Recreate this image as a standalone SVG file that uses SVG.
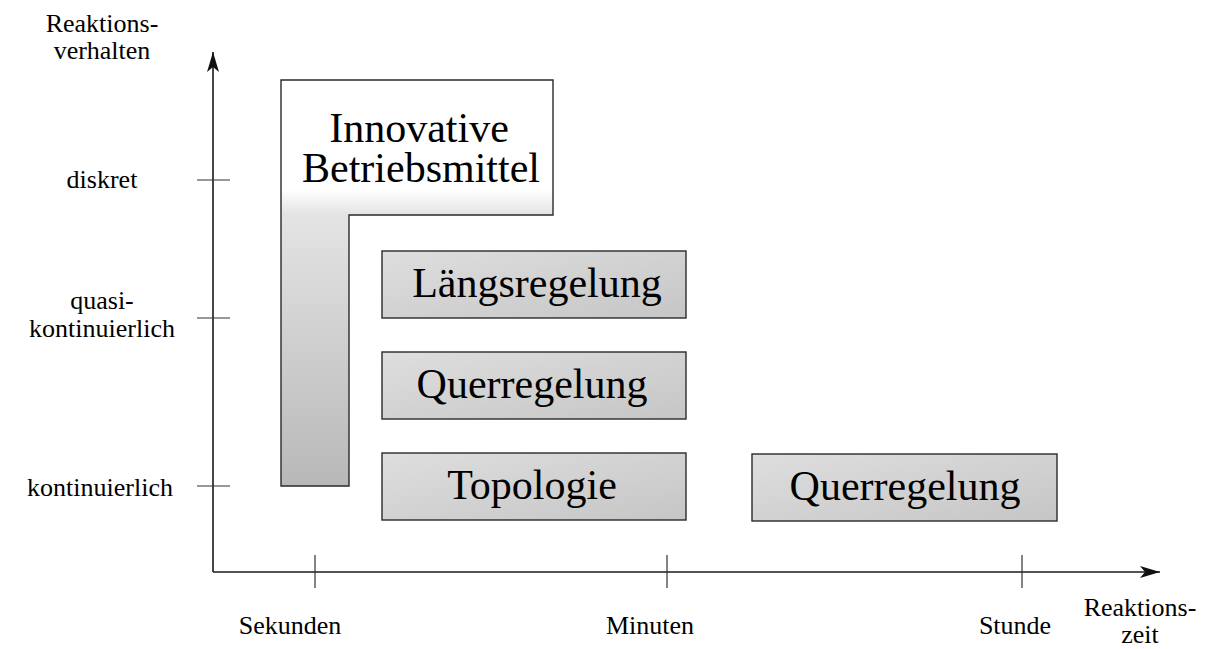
<svg xmlns="http://www.w3.org/2000/svg" width="1225" height="649" viewBox="0 0 1225 649">
  <style>
    .axis { stroke: #1a1a1a; stroke-width: 1.6; fill: none; }
    .tick { stroke: #333; stroke-width: 1.2; }
    text { font-family: 'Liberation Serif', 'DejaVu Serif', serif; fill: #000; text-anchor: middle; }
    .lbl { font-size: 26px; }
    .big { font-size: 42px; }
    .box { stroke: #2a2a2a; stroke-width: 1.4; }
  </style>
  <defs>
    <marker id="arrow" viewBox="0 0 20 12" refX="20" refY="6" markerWidth="20" markerHeight="12" markerUnits="userSpaceOnUse" orient="auto">
      <path d="M0,0 L20,6 L0,12 L5,6 Z" fill="#111"/>
    </marker>
    <linearGradient id="gradL" x1="0" y1="80" x2="0" y2="486" gradientUnits="userSpaceOnUse">
      <stop offset="0" stop-color="#ffffff"/>
      <stop offset="0.27" stop-color="#ffffff"/>
      <stop offset="0.33" stop-color="#e4e4e4"/>
      <stop offset="1" stop-color="#b8b8b8"/>
    </linearGradient>
    <linearGradient id="gradBox" x1="0" y1="0" x2="1" y2="1">
      <stop offset="0" stop-color="#dedede"/>
      <stop offset="1" stop-color="#c6c6c6"/>
    </linearGradient>
  </defs>

  <!-- axes with ticks -->
  <g id="axes">
    <path class="axis" d="M213,572 V52" marker-end="url(#arrow)"/>
    <path class="axis" d="M213,572 H1160" marker-end="url(#arrow)"/>
    <line class="tick" x1="197" y1="180" x2="230" y2="180"/>
    <line class="tick" x1="197" y1="318" x2="230" y2="318"/>
    <line class="tick" x1="197" y1="486" x2="230" y2="486"/>
    <line class="tick" x1="315" y1="555" x2="315" y2="588"/>
    <line class="tick" x1="667" y1="555" x2="667" y2="588"/>
    <line class="tick" x1="1022" y1="555" x2="1022" y2="588"/>
  </g>

  <!-- axis labels -->
  <g id="y-label">
    <text class="lbl"><tspan x="102" y="32">Reaktions-</tspan><tspan x="102" y="59">verhalten</tspan></text>
  </g>
  <g id="y-diskret"><text class="lbl" x="102" y="188">diskret</text></g>
  <g id="y-quasi">
    <text class="lbl"><tspan x="102" y="309">quasi-</tspan><tspan x="102" y="337">kontinuierlich</tspan></text>
  </g>
  <g id="y-kontinuierlich"><text class="lbl" x="100" y="496">kontinuierlich</text></g>
  <g id="x-sekunden"><text class="lbl" x="290" y="634">Sekunden</text></g>
  <g id="x-minuten"><text class="lbl" x="650" y="634">Minuten</text></g>
  <g id="x-stunde"><text class="lbl" x="1015" y="634">Stunde</text></g>
  <g id="x-label">
    <text class="lbl"><tspan x="1140" y="616">Reaktions-</tspan><tspan x="1140" y="643">zeit</tspan></text>
  </g>

  <!-- categories -->
  <g id="innovative">
    <path class="box" d="M281,80 H553 V215 H349 V486 H281 Z" fill="url(#gradL)"/>
    <text class="big"><tspan x="419" y="142">Innovative</tspan><tspan x="421" y="182">Betriebsmittel</tspan></text>
  </g>
  <g id="laengsregelung">
    <rect class="box" x="382" y="251" width="304" height="67" fill="url(#gradBox)"/>
    <text class="big" x="537" y="297">Längsregelung</text>
  </g>
  <g id="querregelung-1">
    <rect class="box" x="382" y="352" width="304" height="67" fill="url(#gradBox)"/>
    <text class="big" x="532" y="398">Querregelung</text>
  </g>
  <g id="topologie">
    <rect class="box" x="382" y="453" width="304" height="67" fill="url(#gradBox)"/>
    <text class="big" x="532" y="499">Topologie</text>
  </g>
  <g id="querregelung-2">
    <rect class="box" x="752" y="454" width="305" height="67" fill="url(#gradBox)"/>
    <text class="big" x="905" y="500">Querregelung</text>
  </g>
</svg>
